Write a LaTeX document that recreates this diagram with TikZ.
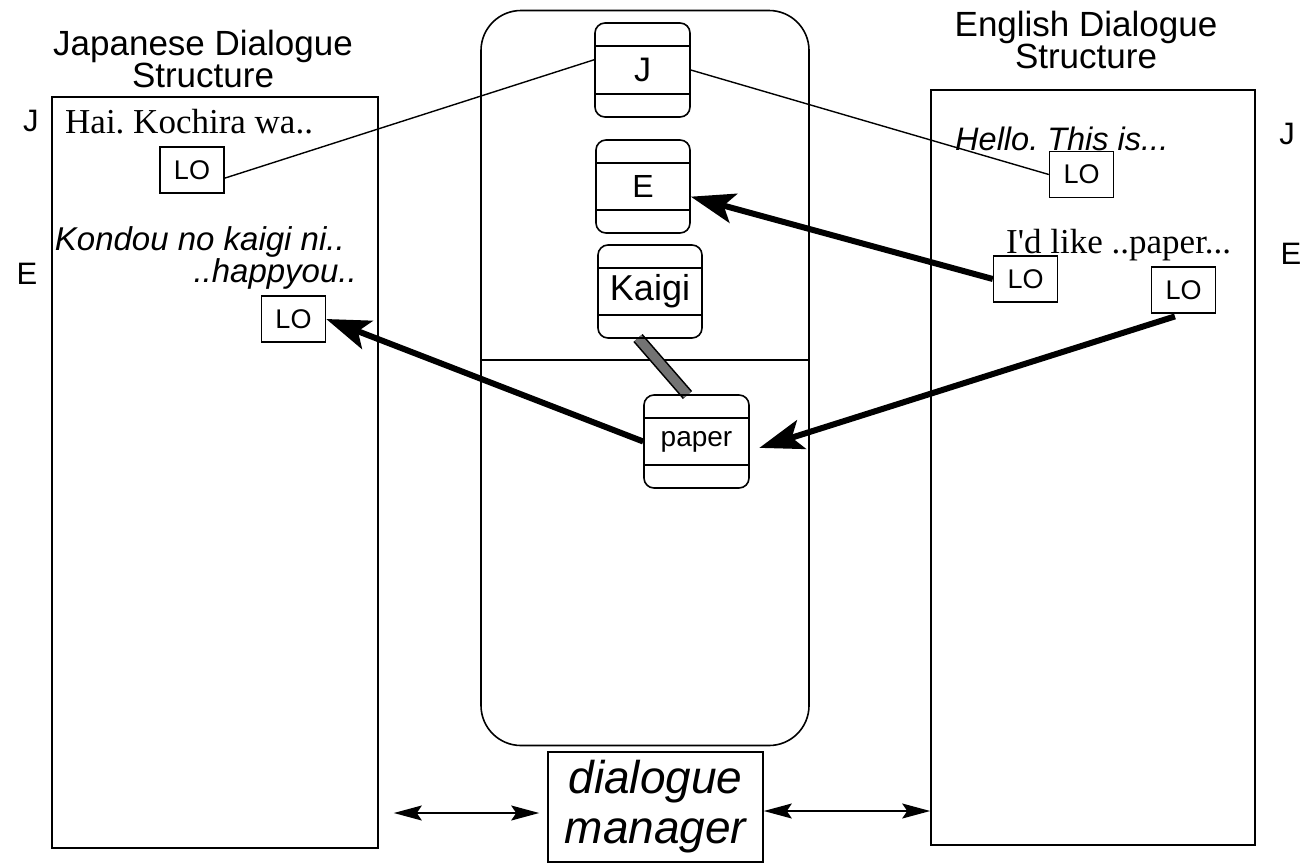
\documentclass[tikz,border=0pt]{standalone}
\usepackage{fontspec}
\setmainfont{Liberation Serif}
\setsansfont{Liberation Sans}
\usetikzlibrary{arrows.meta,calc,positioning}
\newcommand\pxfont[2]{\fontsize{#1}{#2}\selectfont}
\frenchspacing

\begin{document}
\begin{tikzpicture}[x=1pt,y=-1pt,>=Stealth,every node/.style={font=\sffamily}]
  \tikzset{
    panel/.style={draw,line width=1.6pt,inner sep=0pt},
    lobox/.style={draw,line width=1.4pt,minimum width=64pt,minimum height=46pt,inner sep=0pt,font=\sffamily\pxfont{27}{27}},
    slot/.style={draw,line width=1.6pt,rounded corners=10pt,inner sep=0pt,minimum height=93pt,
      path picture={\draw[line width=1.6pt]
        ([yshift=-23pt]path picture bounding box.north west) -- ([yshift=-23pt]path picture bounding box.north east)
        ([yshift=23pt]path picture bounding box.south west) -- ([yshift=23pt]path picture bounding box.south east);}},
    utter/.style={inner sep=0pt},
    side/.style={font=\sffamily\pxfont{31}{31}},
    thinlink/.style={line width=1.4pt},
    boldlink/.style={line width=6pt,-{Stealth[length=44pt,width=30pt,inset=10pt]}},
    twoway/.style={line width=1.6pt,{Stealth[length=28pt,width=15pt,inset=5pt]}-{Stealth[length=28pt,width=15pt,inset=5pt]}},
    hatchlink/.style={line width=1.6pt,double=black!55,double distance=9pt}
  }
  \useasboundingbox (0,0) rectangle (1313,865);
  \node[align=center,font=\sffamily\pxfont{35}{31}] (jtitle) at (203,59) {Japanese Dialogue\\Structure};
  \node[align=center,font=\sffamily\pxfont{35}{31}] (etitle) at (1086,40) {English Dialogue\\Structure};
  \node[panel,minimum width=326pt,minimum height=751pt] (jdlg) at (215,472.5) {};
  \node[panel,minimum width=324pt,minimum height=755pt] (edlg) at (1093,467.5) {};
  \node[panel,rounded corners=40pt,minimum width=328pt,minimum height=735pt] (store) at (645,378) {};
  \node[panel,minimum width=215pt,minimum height=110pt,align=center,font=\sffamily\itshape\pxfont{46}{50}] (manager) at (655.5,807) {dialogue\\manager};
  \node[side] (jmarkl) at (31,121) {J};
  \node[side] (emarkl) at (27,274) {E};
  \node[side] (jmarkr) at (1287,134) {J};
  \node[side] (emarkr) at (1291,254) {E};
  \node[utter,anchor=base west,font=\rmfamily\pxfont{35}{35}] (jline1) at (65,133) {Hai. Kochira wa..};
  \node[utter,anchor=base east,align=right,font=\sffamily\itshape\pxfont{33}{29}] (jline2) at (357,282) {Kondou no kaigi ni..\hspace*{12pt}\\..happyou..};
  \node[utter,anchor=base west,font=\sffamily\itshape\pxfont{32.5}{32.5}] (eline1) at (955,150) {Hello. This is...};
  \node[utter,anchor=base west,font=\rmfamily\pxfont{35}{35}] (eline2) at (1006,253) {I\textquotesingle d like ..paper...};
  \node[lobox] (jlo1) at (192,170) {LO};
  \node[lobox] (jlo2) at (293.5,319) {LO};
  \node[lobox] (elo1) at (1081.5,174.5) {LO};
  \node[lobox] (elo2) at (1025.5,279) {LO};
  \node[lobox] (elo3) at (1183.5,290) {LO};
  \coordinate (cut) at (645,360);
  \draw[line width=1.6pt] (cut -| store.west) -- (cut -| store.east);
  \draw[hatchlink] ([xshift=-12pt]650,338) -- ([xshift=-9pt]696.5,395);
  \node[slot,minimum width=95pt,minimum height=94pt,font=\sffamily\pxfont{34}{34}] (jslot) at (642.5,70) {J};
  \node[slot,minimum width=94pt,font=\sffamily\pxfont{32}{32}] (eslot) at (643,186.5) {E};
  \node[slot,minimum width=104pt,font=\sffamily\pxfont{36}{36}] (kaigi) at (650,291.5) {Kaigi};
  \node[slot,minimum width=105pt,font=\sffamily\pxfont{28}{28}] (paper) at (696.5,441.5) {paper};
  \draw[thinlink] (jlo1.-14) -- (jslot.168);
  \draw[thinlink] (jslot.east) -- (elo1.west);
  \draw[boldlink] (elo2.west) -- (eslot.-12);
  \draw[boldlink,shorten <=9pt,shorten >=10pt] (elo3.south) -- (paper.-10);
  \draw[boldlink] (paper.west) -- (jlo2.east);
  \coordinate (mgrl) at ([yshift=-6pt]manager.west);
  \coordinate (mgrr) at ([yshift=-4pt]manager.east);
  \draw[twoway,shorten <=15pt,shorten >=8pt] (mgrl -| jdlg.east) -- (mgrl);
  \draw[twoway] (mgrr) -- (mgrr -| edlg.west);
\end{tikzpicture}
\end{document}
